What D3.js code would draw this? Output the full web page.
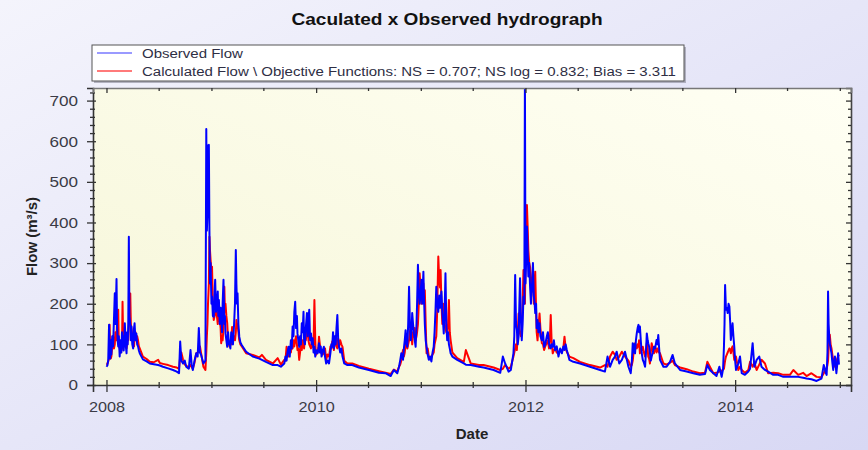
<!DOCTYPE html>
<html>
<head>
<meta charset="utf-8">
<script src="https://cdn.jsdelivr.net/npm/d3@7"></script>
<style>
  html, body { margin: 0; padding: 0; background: #fff; }
  svg { display: block; }
</style>
</head>
<body>
<svg id="chart" width="868" height="450"></svg>
<script>
// Discharge record, sampled at the days listed below (days after 1 Jan 2008)
const startDate = new Date(2008, 0, 1);

const dayOffset = [
  // 2008 wet season
  0, 3, 6, 9, 11, 13, 15, 17, 20, 23, 26, 29, 31, 33, 35, 37, 39, 41, 43, 46, 49, 52, 54, 56, 58, 60, 62, 64, 67, 70,
  72, 74, 76, 78, 80, 83, 85, 87, 90, 93, 96, 98, 101, 104, 107, 110, 113, 116,
  // 2008 recession and spring
  127, 140, 151, 165, 180, 186, 197, 215, 232, 245, 253, 257, 261, 267, 273, 278, 287, 293, 297, 301, 307, 313, 318, 322,
  326, 330, 338, 345,
  // 2008-2009 wet season
  348, 350, 352, 354, 357, 359, 361, 363, 366, 368, 371, 374, 377, 379, 382, 385, 388, 390, 392, 395, 398, 400, 403, 405,
  408, 411, 413, 415, 418, 421, 424, 427, 429, 432, 435, 438, 441, 445, 448, 451, 453, 455, 457, 460, 463, 467, 472,
  // 2009 recession
  487, 510, 533, 542, 556, 580, 597, 608,
  // 2009-2010 wet season
  620, 624, 628, 631, 635, 639, 643, 646, 649, 652, 655, 658, 661, 664, 666, 669, 672, 675, 678, 681, 684, 687, 689, 692,
  695, 699, 702, 704, 707, 710, 713, 716, 719, 722, 725, 728, 730, 736, 739, 741, 744, 747, 750, 754, 758, 762, 766, 771,
  776, 781, 784, 787, 790, 793, 796, 799, 802, 805, 808, 811, 815, 819, 823,
  // 2010 recession
  829, 840, 857, 880, 915, 950, 973, 991, 1002, 1014,
  // 2010-2011 wet season
  1020, 1024, 1028, 1031, 1034, 1037, 1040, 1043, 1046, 1049, 1052, 1055, 1058, 1061, 1064, 1066, 1069, 1072, 1075, 1078,
  1081, 1083, 1086, 1089, 1092, 1095, 1098, 1101, 1105, 1107, 1110, 1113, 1116, 1120, 1124, 1128, 1133, 1137, 1141, 1144,
  1147, 1150, 1153, 1157, 1160, 1163, 1165, 1168, 1171, 1174, 1176, 1179, 1182, 1185, 1188, 1191, 1194, 1197, 1200, 1206,
  // 2011 recession
  1223, 1246, 1253, 1270, 1299, 1315, 1350, 1373, 1382, 1390, 1402, 1410,
  // 2011-2012 wet season
  1419, 1422, 1425, 1428, 1431, 1434, 1437, 1439, 1442, 1445, 1448, 1451, 1454, 1457, 1459, 1461, 1463, 1466, 1469, 1471,
  1474, 1477, 1480, 1484, 1487, 1490, 1493, 1495, 1498, 1500, 1503, 1506, 1510, 1513, 1518, 1522, 1526, 1530, 1535, 1539,
  1543, 1546, 1549, 1552, 1556, 1560, 1564, 1570, 1576, 1582, 1588, 1593, 1597, 1601, 1605,
  // 2012 recession and spring
  1614, 1628, 1651, 1686, 1721, 1738, 1747, 1756, 1765, 1773, 1779, 1788, 1797, 1808, 1820,
  // 2013 wet season
  1828, 1832, 1835, 1838, 1840, 1843, 1846, 1849, 1852, 1855, 1857, 1860, 1863, 1866, 1870, 1874, 1878, 1881, 1884, 1887,
  1889, 1892, 1895, 1898, 1901, 1905, 1909, 1913, 1918, 1921, 1924, 1927, 1930,
  // 2013 recession
  1942, 1953, 1965, 1974, 1982, 2000, 2023, 2046, 2069, 2087, 2095, 2104, 2116, 2127, 2137, 2145, 2150,
  // 2013-2014 wet season
  2153, 2155, 2157, 2160, 2163, 2166, 2169, 2172, 2175, 2177, 2180, 2183, 2186, 2189, 2192, 2195,
  // 2014
  2203, 2209, 2215, 2226, 2238, 2244, 2253, 2259, 2267, 2276, 2284, 2296, 2307, 2325, 2342, 2360, 2383, 2395, 2412, 2429,
  2441, 2458, 2476, 2493,
  // 2014 end of year
  2501, 2505, 2508, 2511, 2514, 2516, 2518, 2520, 2522, 2525, 2528, 2531, 2534, 2537, 2540, 2543, 2545, 2548, 2551, 2554
];

const observed = [
  // 2008 wet season
  45, 48, 60, 148, 80, 65, 110, 75, 120, 95, 160, 226, 150, 200, 261, 140, 110, 95, 120, 70, 110, 80, 130, 100, 120, 85, 110, 152, 100, 78,
  130, 100, 150, 365, 170, 150, 110, 144, 100, 90, 140, 152, 110, 127, 100, 95, 85, 78,
  // 2008 recession and spring
  63, 58, 53, 51, 49, 48, 45, 41, 37, 33, 29, 107, 60, 53, 60, 45, 40, 86, 50, 37, 60, 78, 70, 140,
  80, 74, 53, 60,
  // 2008-2009 wet season
  630, 380, 420, 590, 591, 378, 250, 300, 200, 218, 170, 168, 230, 259, 180, 193, 230, 170, 209, 150, 190, 177, 130, 200,
  259, 150, 170, 127, 110, 94, 130, 100, 103, 90, 130, 119, 100, 150, 200, 332, 250, 200, 226, 150, 119, 105, 98,
  // 2009 recession
  82, 70, 65, 62, 57, 49, 49, 45,
  // 2009-2010 wet season
  53, 70, 60, 80, 94, 70, 110, 90, 144, 120, 180, 205, 140, 170, 127, 110, 94, 120, 100, 152, 130, 180, 110, 100,
  140, 177, 120, 160, 185, 110, 127, 100, 115, 80, 95, 70, 86, 78, 90, 103, 80, 95, 70, 85, 94, 70, 53, 60,
  53, 80, 100, 94, 130, 90, 120, 100, 140, 172, 110, 94, 80, 90, 70,
  // 2010 recession
  53, 49, 49, 43, 37, 30, 29, 22, 37, 29,
  // 2010-2011 wet season
  45, 60, 78, 70, 62, 90, 110, 135, 100, 94, 150, 242, 150, 110, 140, 177, 150, 127, 110, 94,
  150, 200, 296, 230, 200, 220, 259, 200, 279, 220, 150, 110, 94, 75, 62, 70, 58, 80, 94, 130,
  180, 242, 200, 180, 220, 190, 209, 230, 177, 150, 127, 180, 275, 150, 110, 130, 100, 90, 78, 70,
  // 2011 recession
  62, 53, 50, 49, 45, 43, 37, 30, 70, 53, 33, 37,
  // 2011-2012 wet season
  78, 120, 271, 150, 135, 100, 119, 180, 263, 160, 110, 150, 218, 200, 760, 250, 300, 390, 320, 267,
  300, 242, 200, 250, 300, 220, 200, 177, 200, 140, 160, 130, 152, 120, 110, 130, 94, 100, 119, 130,
  103, 95, 90, 100, 94, 110, 86, 95, 70, 90, 78, 95, 86, 100, 86,
  // 2012 recession and spring
  62, 57, 53, 45, 37, 33, 70, 45, 62, 70, 82, 53, 62, 82, 45,
  // 2013 wet season
  29, 60, 103, 80, 100, 78, 110, 127, 140, 148, 130, 144, 110, 80, 62, 55, 45, 80, 127, 110,
  103, 95, 78, 60, 70, 80, 94, 90, 111, 100, 123, 90, 62,
  // 2013 recession
  45, 45, 57, 74, 53, 37, 33, 29, 25, 27, 49, 37, 29, 22, 45, 20, 40,
  // 2013-2014 wet season
  94, 150, 246, 185, 190, 177, 200, 193, 150, 111, 130, 152, 120, 94, 60, 37,
  // 2014
  53, 70, 29, 25, 33, 40, 103, 45, 62, 70, 45, 37, 33, 25, 25, 20, 20, 20, 20, 18,
  16, 14, 10, 16,
  // 2014 end of year
  49, 40, 30, 25, 80, 230, 150, 120, 103, 90, 78, 55, 37, 60, 70, 45, 29, 50, 78, 50
];

const calculated = [
  // 2008 wet season
  50, 52, 58, 65, 148, 90, 65, 70, 95, 120, 90, 100, 130, 120, 110, 160, 130, 185, 100, 90, 80, 85, 90, 205, 120, 110, 95, 130, 110, 90,
  100, 120, 110, 150, 200, 225, 150, 140, 120, 100, 95, 120, 130, 110, 120, 110, 95, 90,
  // 2008 recession and spring
  70, 64, 57, 56, 62, 54, 52, 49, 45, 43, 40, 70, 80, 62, 50, 48, 42, 50, 45, 40, 55, 78, 80, 85,
  95, 78, 45, 37,
  // 2008-2009 wet season
  80, 120, 150, 200, 250, 365, 330, 308, 280, 291, 200, 160, 170, 175, 185, 170, 150, 180, 175, 160, 140, 103, 120, 110,
  140, 242, 180, 200, 170, 152, 110, 100, 94, 110, 100, 143, 120, 120, 110, 130, 160, 150, 150, 130, 110, 100, 95,
  // 2009 recession
  78, 74, 68, 74, 62, 53, 66, 50,
  // 2009-2010 wet season
  62, 60, 94, 70, 70, 85, 80, 100, 90, 110, 95, 110, 120, 100, 86, 90, 62, 80, 100, 86, 110, 100, 90, 120,
  110, 135, 150, 110, 100, 95, 90, 110, 94, 100, 209, 110, 74, 80, 95, 119, 100, 85, 78, 75, 80, 90, 62, 75,
  70, 95, 90, 107, 100, 86, 110, 120, 95, 90, 115, 94, 110, 100, 94,
  // 2010 recession
  60, 53, 53, 47, 40, 34, 30, 27, 38, 33,
  // 2010-2011 wet season
  45, 50, 60, 75, 86, 70, 80, 100, 120, 90, 100, 110, 130, 143, 120, 100, 130, 119, 140, 110,
  120, 130, 150, 200, 275, 240, 200, 230, 250, 200, 233, 150, 78, 90, 70, 65, 70, 75, 80, 100,
  110, 120, 180, 316, 260, 240, 283, 200, 150, 200, 177, 150, 140, 130, 127, 150, 209, 130, 110, 80,
  // 2011 recession
  66, 57, 86, 53, 49, 49, 43, 37, 40, 49, 40, 45,
  // 2011-2012 wet season
  70, 80, 90, 100, 86, 130, 176, 140, 127, 120, 135, 200, 283, 240, 200, 300, 330, 443, 380, 332,
  300, 290, 250, 230, 283, 200, 250, 279, 180, 130, 110, 140, 176, 140, 103, 100, 86, 95, 103, 110,
  90, 110, 172, 110, 78, 85, 90, 80, 78, 85, 82, 90, 119, 90, 82,
  // 2012 recession and spring
  70, 66, 57, 49, 43, 49, 45, 70, 82, 74, 62, 70, 82, 70, 60,
  // 2013 wet season
  45, 50, 60, 80, 90, 103, 95, 90, 100, 94, 110, 78, 90, 85, 94, 80, 70, 85, 103, 90,
  70, 65, 53, 80, 103, 90, 78, 95, 80, 90, 85, 80, 78,
  // 2013 recession
  53, 50, 55, 60, 49, 43, 39, 33, 29, 30, 57, 45, 29, 30, 33, 35, 38,
  // 2013-2014 wet season
  40, 50, 60, 70, 75, 80, 85, 90, 85, 78, 90, 95, 80, 62, 70, 70,
  // 2014
  37, 45, 37, 30, 37, 57, 45, 55, 37, 50, 62, 53, 29, 30, 29, 25, 25, 37, 25, 30,
  22, 29, 20, 19,
  // 2014 end of year
  29, 35, 35, 40, 50, 60, 90, 110, 124, 100, 90, 75, 62, 50, 45, 55, 60, 65, 70, 75
];

const yTickValues = [0, 100, 200, 300, 400, 500, 600, 700];
const xTickYears = [2008, 2010, 2012, 2014];
const chartTitle = "Caculated x Observed hydrograph";
const xAxisTitle = "Date";
const yAxisTitle = "Flow (m³/s)";
const seriesNames = [
  "Observed Flow",
  "Calculated Flow \\ Objective Functions: NS = 0.707; NS log = 0.832; Bias = 3.311"
];
const seriesColors = ["#0000ff", "#ff0000"];
const legendColors = ["#9a9aff", "#ff7a7a"];

const W = 868, H = 450;
const plot = { left: 93, right: 851, top: 88, bottom: 385 };
const FONT = "Arial, 'Liberation Sans', sans-serif";
const TEXT = "#3b3b46";

// widen a text element horizontally by a factor (the chart's lettering is set wide)
function widen(sel, factor) {
  sel.each(function () {
    const w = this.getComputedTextLength();
    d3.select(this).attr("textLength", w * factor).attr("lengthAdjust", "spacingAndGlyphs");
  });
}

const svg = d3.select("#chart");
const defs = svg.append("defs");

const bgGrad = defs.append("linearGradient").attr("id", "bgGrad")
  .attr("x1", 0).attr("y1", 0).attr("x2", 1).attr("y2", 1);
bgGrad.append("stop").attr("offset", "0%").attr("stop-color", "#f4f4fc");
bgGrad.append("stop").attr("offset", "100%").attr("stop-color", "#d8d8f4");

const plotGrad = defs.append("linearGradient").attr("id", "plotGrad")
  .attr("x1", 1).attr("y1", 0).attr("x2", 0).attr("y2", 1);
plotGrad.append("stop").attr("offset", "0%").attr("stop-color", "#fffff4");
plotGrad.append("stop").attr("offset", "100%").attr("stop-color", "#f6f6d8");

defs.append("clipPath").attr("id", "plotClip").append("rect")
  .attr("x", plot.left).attr("y", plot.top)
  .attr("width", plot.right - plot.left).attr("height", plot.bottom - plot.top);

svg.append("rect").attr("width", W).attr("height", H).attr("fill", "url(#bgGrad)");

// Plot area
svg.append("rect")
  .attr("x", plot.left).attr("y", plot.top)
  .attr("width", plot.right - plot.left).attr("height", plot.bottom - plot.top)
  .attr("fill", "url(#plotGrad)");

const x = d3.scaleTime()
  .domain([new Date(2007, 10, 15), new Date(2015, 1, 9)])
  .range([plot.left, plot.right]);
const y = d3.scaleLinear().domain([0, 731]).range([plot.bottom, plot.top]);

const series = [observed, calculated].map(vals =>
  dayOffset.map((d, i) => ({ date: d3.timeDay.offset(startDate, d), value: vals[i] })));

const line = d3.line().x(d => x(d.date)).y(d => y(d.value));

const lines = svg.append("g").attr("clip-path", "url(#plotClip)");
// calculated first, observed drawn on top
[1, 0].forEach(k => {
  lines.append("path")
    .datum(series[k])
    .attr("fill", "none")
    .attr("stroke", seriesColors[k])
    .attr("stroke-width", 2)
    .attr("stroke-linejoin", "round")
    .attr("d", line);
});

// Axes
const minorY = d3.range(0, 731, 20).filter(v => v % 100 !== 0);
const majorX = xTickYears.map(yr => new Date(yr, 0, 1));
const minorX = d3.timeMonth.every(6).range(x.domain()[0], x.domain()[1])
  .filter(d => !xTickYears.includes(d.getFullYear()) || d.getMonth() !== 0);

function styleAxis(g) {
  g.select(".domain").attr("stroke", "#333").attr("stroke-width", 1.6);
  g.selectAll(".tick line").attr("stroke", "#333").attr("stroke-width", 1.3);
  g.selectAll("text").attr("font-family", FONT).attr("font-size", 15).attr("fill", TEXT);
}

// left
const gLeft = svg.append("g").attr("transform", `translate(${plot.left},0)`)
  .call(d3.axisLeft(y).tickValues(yTickValues).tickSize(6).tickPadding(9).tickFormat(d3.format("d")));
gLeft.selectAll(".tick line").attr("x2", -6).attr("x1", 3);
styleAxis(gLeft);
widen(gLeft.selectAll("text"), 1.14);
const gLeftMinor = svg.append("g").attr("transform", `translate(${plot.left},0)`)
  .call(d3.axisLeft(y).tickValues(minorY).tickSize(3).tickFormat(""));
gLeftMinor.select(".domain").remove();
gLeftMinor.selectAll(".tick line").attr("x1", 2);
styleAxis(gLeftMinor);

// right (inward ticks)
const gRight = svg.append("g").attr("transform", `translate(${plot.right},0)`)
  .call(d3.axisLeft(y).tickValues(yTickValues).tickSize(5).tickFormat(""));
styleAxis(gRight);
gRight.select(".domain").attr("stroke", "#444");
const gRightMinor = svg.append("g").attr("transform", `translate(${plot.right},0)`)
  .call(d3.axisLeft(y).tickValues(minorY).tickSize(3).tickFormat(""));
gRightMinor.select(".domain").remove();
styleAxis(gRightMinor);

// bottom
const gBottom = svg.append("g").attr("transform", `translate(0,${plot.bottom})`)
  .call(d3.axisBottom(x).tickValues(majorX).tickSize(7).tickPadding(9).tickFormat(d3.timeFormat("%Y")));
gBottom.selectAll(".tick line").attr("y1", -5);
styleAxis(gBottom);
widen(gBottom.selectAll("text"), 1.08);
const gBottomMinor = svg.append("g").attr("transform", `translate(0,${plot.bottom})`)
  .call(d3.axisBottom(x).tickValues(minorX).tickSize(3).tickFormat(""));
gBottomMinor.select(".domain").remove();
gBottomMinor.selectAll(".tick line").attr("y1", -3);
styleAxis(gBottomMinor);

// top (inward ticks)
const gTop = svg.append("g").attr("transform", `translate(0,${plot.top})`)
  .call(d3.axisBottom(x).tickValues(majorX).tickSize(5).tickFormat(""));
styleAxis(gTop);
gTop.select(".domain").attr("stroke", "#777");
const gTopMinor = svg.append("g").attr("transform", `translate(0,${plot.top})`)
  .call(d3.axisBottom(x).tickValues(minorX).tickSize(3).tickFormat(""));
gTopMinor.select(".domain").remove();
styleAxis(gTopMinor);

// Titles
const title = svg.append("text")
  .attr("x", 447).attr("y", 25)
  .attr("text-anchor", "middle")
  .attr("font-family", FONT).attr("font-size", 17).attr("font-weight", "bold")
  .attr("fill", "#111")
  .text(chartTitle);
widen(title, 1.12);

svg.append("text")
  .attr("x", 472).attr("y", 439)
  .attr("text-anchor", "middle")
  .attr("font-family", FONT).attr("font-size", 15).attr("font-weight", "bold")
  .attr("fill", "#222")
  .text(xAxisTitle);

svg.append("text")
  .attr("transform", `translate(37,${(plot.top + plot.bottom) / 2}) rotate(-90)`)
  .attr("text-anchor", "middle")
  .attr("font-family", FONT).attr("font-size", 15).attr("font-weight", "bold")
  .attr("fill", "#222")
  .text(yAxisTitle);

// Legend
const legend = svg.append("g");
legend.append("rect")
  .attr("x", 94).attr("y", 47).attr("width", 592).attr("height", 36)
  .attr("fill", "#8a8a99").attr("opacity", 0.6);
legend.append("rect")
  .attr("x", 92).attr("y", 45).attr("width", 592).attr("height", 36)
  .attr("fill", "#fff").attr("stroke", "#555").attr("stroke-width", 1);
seriesNames.forEach((name, i) => {
  const ly = 53 + i * 18;
  legend.append("line")
    .attr("x1", 97).attr("x2", 132).attr("y1", ly).attr("y2", ly)
    .attr("stroke", legendColors[i]).attr("stroke-width", 2);
  const t = legend.append("text")
    .attr("x", 142).attr("y", ly + 4.5)
    .attr("font-family", FONT).attr("font-size", 12.5)
    .attr("fill", "#2e2e44")
    .text(name);
  widen(t, 1.2);
});
</script>
</body>
</html>
